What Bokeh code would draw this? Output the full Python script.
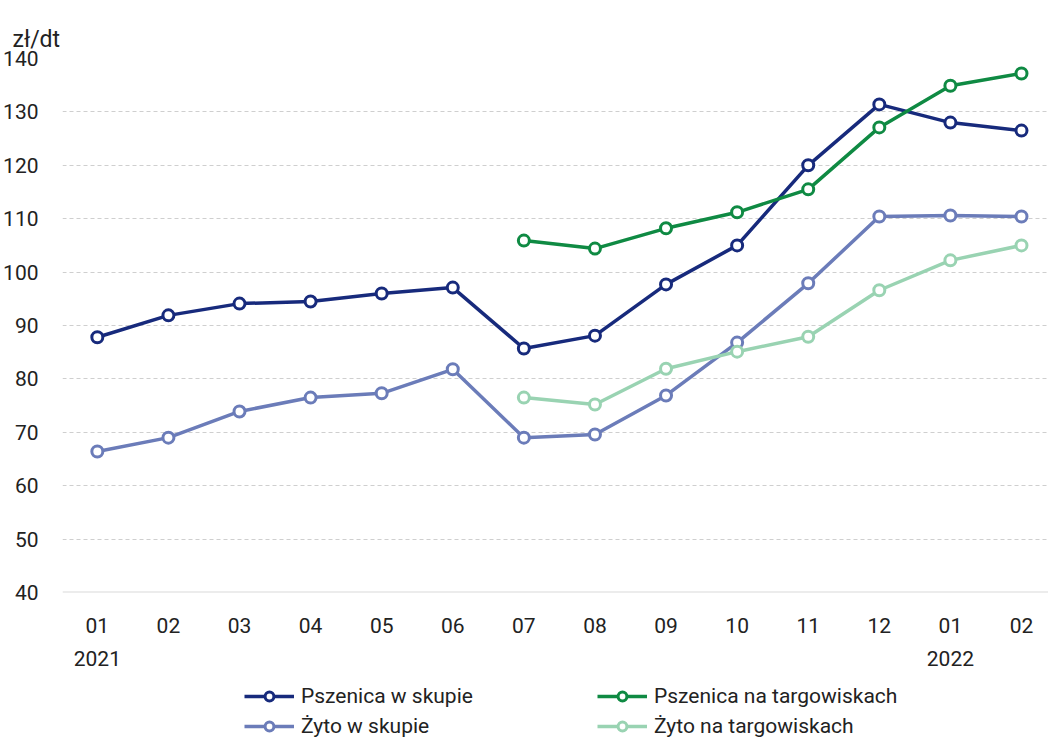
from bokeh.plotting import figure
from bokeh.models import Legend, LegendItem, Span, FixedTicker, Range1d
from bokeh.layouts import column
from bokeh.embed import file_html
from bokeh.resources import INLINE

months = ["01\n2021", "02", "03", "04", "05", "06", "07", "08", "09", "10", "11", "12", "01\n2022", "02"]
x_all = list(range(14))
x_h2 = list(range(6, 14))

pszenica_skup = [87.8, 91.9, 94.1, 94.5, 96.0, 97.1, 85.7, 88.1, 97.7, 105.0, 120.0, 131.4, 128.0, 126.5]
pszenica_targ = [105.9, 104.4, 108.2, 111.2, 115.5, 127.1, 134.9, 137.2]
zyto_skup = [66.4, 69.0, 73.9, 76.5, 77.3, 81.8, 69.0, 69.6, 76.9, 86.8, 97.9, 110.4, 110.6, 110.4]
zyto_targ = [76.5, 75.2, 81.9, 85.1, 87.9, 96.6, 102.2, 105.0]

names = ["Pszenica w skupie", "Pszenica na targowiskach", "Żyto w skupie", "Żyto na targowiskach"]
colors = ["#172a7c", "#0f8a43", "#6b7cb9", "#99d3b2"]

FONT = "Roboto"

p = figure(width=1048, height=676, output_backend="svg", toolbar_location=None,
           x_range=Range1d(-0.49, 13.38), y_range=Range1d(40, 140),
           min_border_left=62, min_border_right=0, min_border_top=58, min_border_bottom=84)
p.outline_line_color = None
p.background_fill_color = "white"

p.title.text = "zł/dt"
p.title.text_font = FONT
p.title.text_font_size = "23px"
p.title.text_font_style = "normal"
p.title.text_color = "#222222"
p.title.align = "left"
p.title.offset = -50
p.title.standoff = 12

p.xgrid.grid_line_color = None
p.ygrid.grid_line_color = "#cfcfcf"
p.ygrid.grid_line_dash = "4 3"
p.ygrid.grid_line_width = 1
p.yaxis.ticker = FixedTicker(ticks=list(range(40, 141, 10)))
p.xaxis.ticker = FixedTicker(ticks=x_all)
p.xaxis.major_label_overrides = {i: m for i, m in enumerate(months)}

for ax in (p.xaxis[0], p.yaxis[0]):
    ax.axis_line_color = None
    ax.major_tick_line_color = None
    ax.minor_tick_line_color = None
    ax.major_label_text_font = FONT
    ax.major_label_text_font_size = "21px"
    ax.major_label_text_color = "#222222"
p.xaxis.major_label_text_line_height = 1.4
p.yaxis.major_label_standoff = 18
p.xaxis.major_label_standoff = 15

p.add_layout(Span(location=40, dimension="width", line_color="#d9d9d9", line_width=2))

series = [(x_all, pszenica_skup), (x_h2, pszenica_targ), (x_all, zyto_skup), (x_h2, zyto_targ)]
for (xs, ys), name, c in zip(series, names, colors):
    p.line(xs, ys, line_color=c, line_width=3.5)
    p.scatter(xs, ys, size=11, marker="circle", fill_color="white", line_color=c, line_width=3)

# legend-only figure below the chart (dummy renderers placed outside the visible range)
lf = figure(width=1048, height=62, output_backend="svg", toolbar_location=None,
            x_range=Range1d(0, 1), y_range=Range1d(0, 1),
            min_border_left=0, min_border_right=0, min_border_top=0, min_border_bottom=0)
lf.axis.visible = False
lf.grid.visible = False
lf.outline_line_color = None
items = {}
for name, c in zip(names, colors):
    l = lf.line([-10, -11], [-10, -11], line_color=c, line_width=3.5)
    s = lf.scatter([-10], [-10], size=11, marker="circle", fill_color="white", line_color=c, line_width=3)
    items[name] = LegendItem(label=name, renderers=[l, s])

order = ["Pszenica w skupie", "Żyto w skupie", "Pszenica na targowiskach", "Żyto na targowiskach"]
legend = Legend(items=[items[n] for n in order], ncols=2, location=(182, 0),
                glyph_width=50, glyph_height=22, label_height=22, label_width=290,
                label_standoff=7, spacing=6, padding=0, margin=0,
                border_line_color=None, background_fill_alpha=0,
                label_text_font=FONT, label_text_font_size="21px", label_text_color="#222222")
lf.add_layout(legend, "center")

layout = column(p, lf, spacing=0)
open("out.html", "w").write(file_html(layout, INLINE))
